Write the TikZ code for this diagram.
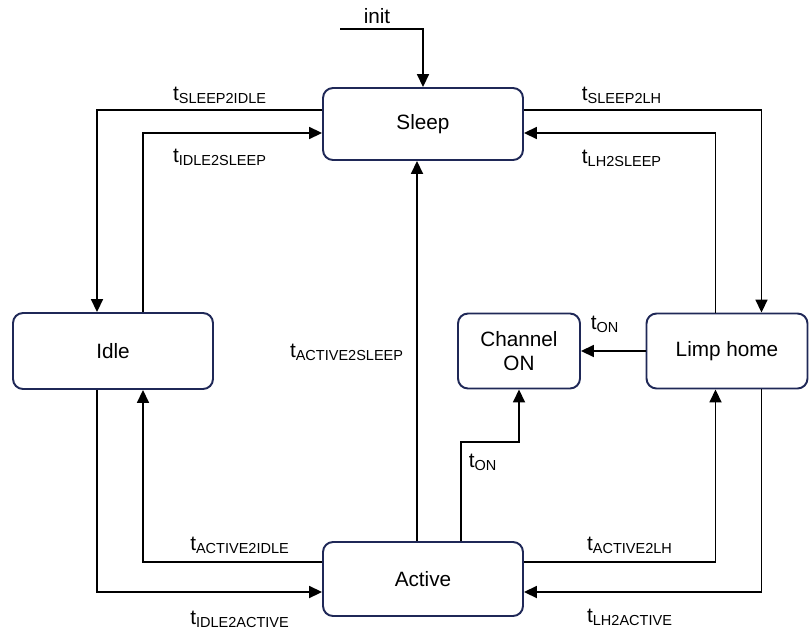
\documentclass[tikz,border=0pt]{standalone}
\usepackage{fontspec}
\setmainfont{Liberation Sans}
\usetikzlibrary{arrows.meta}
\definecolor{stateline}{HTML}{1F2857}
\newcommand{\tsub}[1]{t\textsubscript{#1}}

\begin{document}
\begin{tikzpicture}[x=0.02cm,y=-0.02cm,
  state/.style={draw=stateline,line width=1.1pt,rounded corners=0.2cm,align=center,
    font=\fontsize{11.8}{14}\selectfont},
  trans/.style={draw,line width=1pt,-{Triangle[length=0.26cm,width=0.24cm]}},
  lbl/.style={inner sep=0pt,font=\fontsize{11.8}{14}\selectfont}]
  \useasboundingbox (0,0) rectangle (811,629);

  %states
  \node[state,minimum width=4cm,minimum height=1.44cm] (sleep) at (423,124) {Sleep};
  \node[state,minimum width=4cm,minimum height=1.52cm] (idle) at (113,351) {Idle};
  \node[state,minimum width=2.44cm,minimum height=1.5cm] (chon) at (519,351) {Channel\\ON};
  \node[state,minimum width=3.22cm,minimum height=1.5cm] (limp) at (727,351) {Limp home};
  \node[state,minimum width=4cm,minimum height=1.48cm] (active) at (423,579) {Active};

  %init
  \coordinate (initin) at (340,29);
  \node[lbl] (initlbl) at (377,16) {init};
  \draw[trans] (initin) -| (sleep.north);

  %sleep <-> idle
  \draw[trans] ([yshift=0.28cm]sleep.west) -| ([xshift=-0.32cm]idle.north);
  \draw[trans] ([xshift=0.6cm]idle.north) |- ([yshift=-0.18cm]sleep.west);
  \node[lbl] (s2i) at (220,95) {\tsub{SLEEP2IDLE}};
  \node[lbl] (i2s) at (220,157) {\tsub{IDLE2SLEEP}};

  %sleep <-> limp home
  \draw[trans] ([yshift=0.28cm]sleep.east) -| ([xshift=0.69cm]limp.north);
  \draw[trans] ([xshift=-0.23cm]limp.north) |- ([yshift=-0.18cm]sleep.east);
  \node[lbl] (s2lh) at (622,95) {\tsub{SLEEP2LH}};
  \node[lbl] (lh2s) at (622,158) {\tsub{LH2SLEEP}};

  %active -> sleep
  \draw[trans] ([xshift=-0.12cm]active.north) -- ([xshift=-0.12cm]sleep.south);
  \node[lbl] (a2s) at (347,352) {\tsub{ACTIVE2SLEEP}};

  %channel on
  \coordinate (onbend) at (461,442);
  \draw[trans] ([xshift=0.76cm]active.north) -- (onbend) -| (chon.south);
  \node[lbl] (on1) at (483,462) {\tsub{ON}};
  \draw[trans] (limp.west) -- (chon.east);
  \node[lbl] (on2) at (605,324) {\tsub{ON}};

  %active <-> idle
  \draw[trans] ([yshift=0.34cm]active.west) -| ([xshift=0.6cm]idle.south);
  \draw[trans] ([xshift=-0.32cm]idle.south) |- ([yshift=-0.26cm]active.west);
  \node[lbl] (a2i) at (240,545) {\tsub{ACTIVE2IDLE}};
  \node[lbl] (i2a) at (240,619) {\tsub{IDLE2ACTIVE}};

  %active <-> limp home
  \draw[trans] ([yshift=0.34cm]active.east) -| ([xshift=-0.23cm]limp.south);
  \draw[trans] ([xshift=0.69cm]limp.south) |- ([yshift=-0.26cm]active.east);
  \node[lbl] (a2lh) at (630,545) {\tsub{ACTIVE2LH}};
  \node[lbl] (lh2a) at (630,617) {\tsub{LH2ACTIVE}};
\end{tikzpicture}
\end{document}
